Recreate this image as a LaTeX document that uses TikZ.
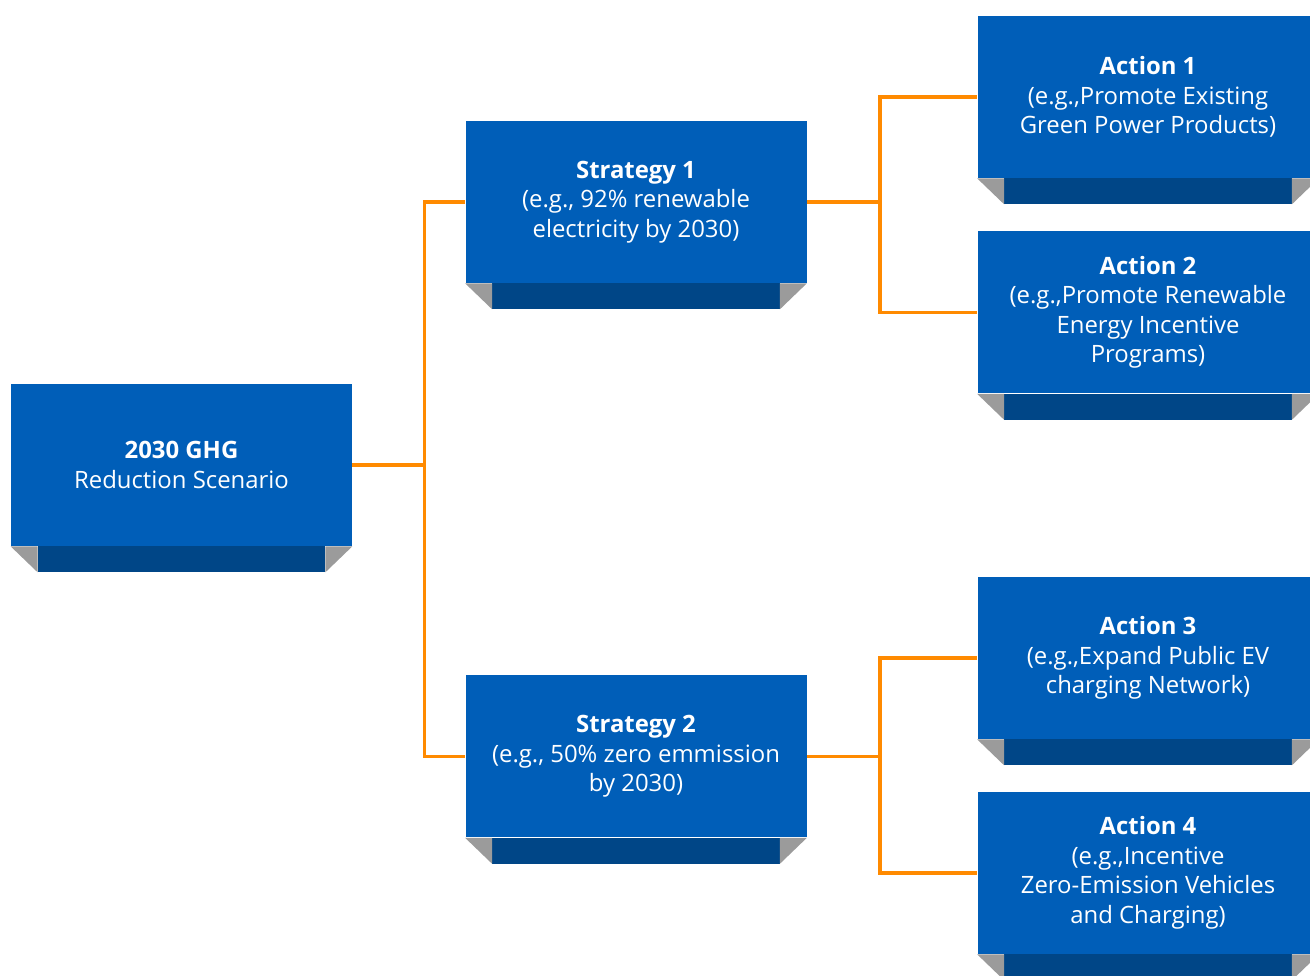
\documentclass[tikz,border=0pt]{standalone}
\usepackage{fontspec}
\setmainfont{Open Sans}
\usepackage{tikz}
\usetikzlibrary{positioning}

\definecolor{boxblue}{HTML}{005EB8}
\definecolor{stripblue}{HTML}{004687}
\definecolor{foldgray}{HTML}{9B9B9B}
\definecolor{linkorange}{HTML}{FF8A00}

\tikzset{
  block/.style={rectangle, fill=boxblue, text=white, align=center, text centered, inner sep=0pt,
    minimum width=6.82cm, minimum height=3.24cm, font=\fontsize{13.6}{16.8}\selectfont},
  link/.style={draw=linkorange, line width=2pt},
}

\begin{document}
\begin{tikzpicture}[node distance=2cm]
    \fill[white] (0,0) rectangle (26.2,19.52);
    \useasboundingbox (0,0) rectangle (26.2,19.52);

    \node (root) [block] at (3.63,10.22) {\textbf{2030 GHG}\\Reduction Scenario};
    \node (strat1) [block, right of=root, xshift=7.09cm, yshift=5.26cm] {\textbf{Strategy 1}\\(e.g., 92\% renewable\\electricity by 2030)};
    \node (strat2) [block, right of=root, xshift=7.09cm, yshift=-5.83cm] {\textbf{Strategy 2}\\(e.g., 50\% zero emmission\\by 2030)};
    \node (act1) [block, right of=strat1, xshift=8.24cm, yshift=2.1cm] {\textbf{Action 1}\\(e.g.,Promote Existing\\Green Power Products)};
    \node (act2) [block, right of=strat1, xshift=8.24cm, yshift=-2.21cm] {\textbf{Action 2}\\(e.g.,Promote Renewable\\Energy Incentive\\Programs)};
    \node (act3) [block, right of=strat2, xshift=8.24cm, yshift=1.97cm] {\textbf{Action 3}\\(e.g.,Expand Public EV\\charging Network)};
    \node (act4) [block, right of=strat2, xshift=8.24cm, yshift=-2.33cm] {\textbf{Action 4}\\(e.g.,Incentive\\Zero-Emission Vehicles\\and Charging)};

    % folded strip under each box
    \foreach \n in {root,strat1,strat2,act1,act2,act3,act4} {
        \fill[stripblue] ([xshift=0.54cm]\n.south west) rectangle ([xshift=-0.54cm,yshift=-0.52cm]\n.south east);
        \fill[foldgray] (\n.south west) -- ([xshift=0.54cm,yshift=-0.52cm]\n.south west) -- ([xshift=0.54cm]\n.south west) -- cycle;
        \fill[foldgray] (\n.south east) -- ([xshift=-0.54cm,yshift=-0.52cm]\n.south east) -- ([xshift=-0.54cm]\n.south east) -- cycle;
    }

    \draw[link] (root.east) -- ++(1.44,0) coordinate (rootfork) |- (strat1.west);
    \draw[link] (rootfork) |- (strat2.west);
    \draw[link] (strat1.east) -- ++(1.46,0) coordinate (fork1) |- (act1.west);
    \draw[link] (fork1) |- (act2.west);
    \draw[link] (strat2.east) -- ++(1.46,0) coordinate (fork2) |- (act3.west);
    \draw[link] (fork2) |- (act4.west);
\end{tikzpicture}
\end{document}
